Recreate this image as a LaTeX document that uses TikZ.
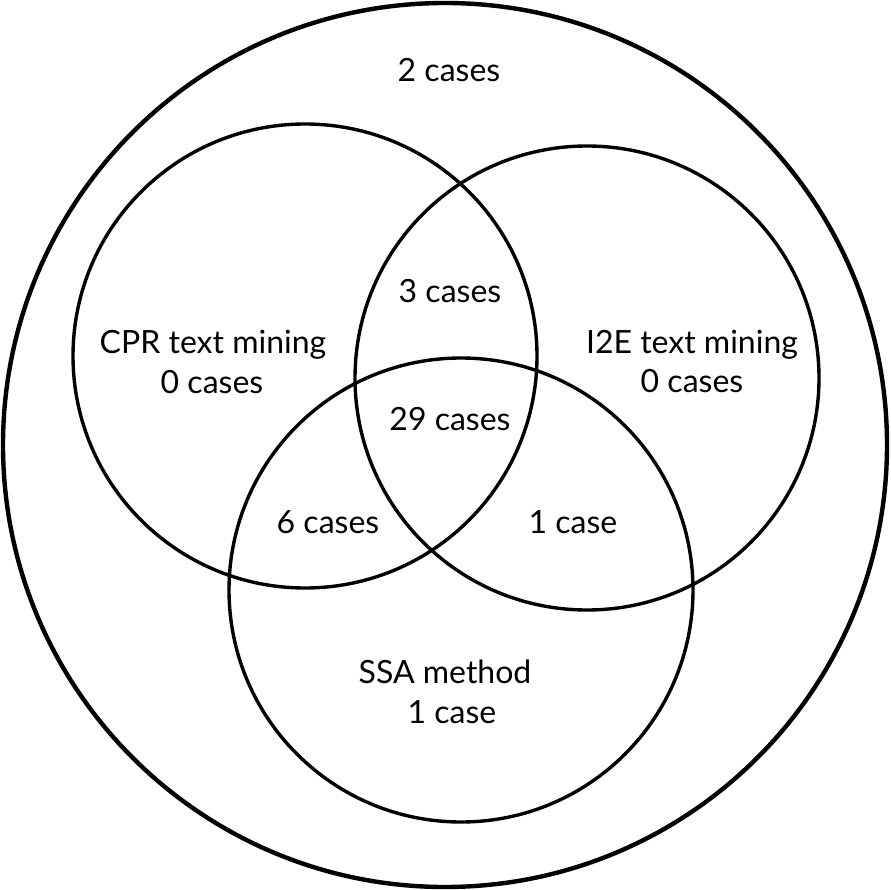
\documentclass[tikz,border=0pt]{standalone}
\usepackage{fontspec}
\setmainfont{Lato}
\begin{document}
\begin{tikzpicture}[x=1pt,y=-1pt,
  setring/.style={line width=3.4pt},
  outerring/.style={line width=4.4pt},
  lbl/.style={anchor=base,inner sep=0pt,font=\fontsize{32}{38}\selectfont}]
\useasboundingbox (0,0) rectangle (890,890);
\coordinate (U) at (445,445);
\coordinate (CPR) at (305,356);
\coordinate (I2E) at (587,378);
\coordinate (SSA) at (461,590);
\draw[outerring] (U) circle[radius=442];
\draw[setring] (CPR) circle[radius=232];
\draw[setring] (I2E) circle[radius=232];
\draw[setring] (SSA) circle[radius=232];
\node[lbl] (none) at (449,82) {2 cases};
\node[lbl] (cprI2E) at (450,302) {3 cases};
\node[lbl] (cprA) at (213,353) {CPR text mining};
\node[lbl] (cprB) at (212,393) {0 cases};
\node[lbl] (i2eA) at (692,353) {I2E text mining};
\node[lbl] (i2eB) at (692,392) {0 cases};
\node[lbl] (all) at (450,430) {29 cases};
\node[lbl] (cprSSA) at (328,533) {6 cases};
\node[lbl] (i2eSSA) at (573,533) {1 case};
\node[lbl] (ssaA) at (445,683) {SSA method};
\node[lbl] (ssaB) at (452,723) {1 case};
\end{tikzpicture}
\end{document}
